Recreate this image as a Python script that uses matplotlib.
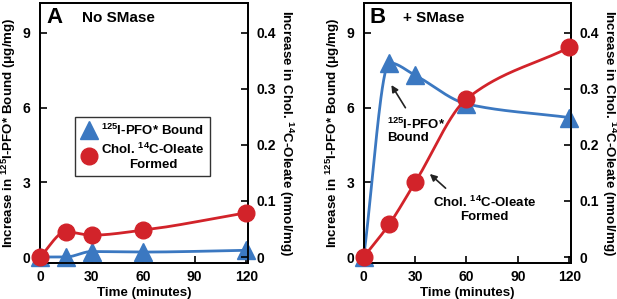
import numpy as np
import matplotlib
matplotlib.use("Agg")
import matplotlib.pyplot as plt
from matplotlib.lines import Line2D

plt.rcParams['font.family'] = ['Liberation Sans', 'DejaVu Sans']
plt.rcParams['font.weight'] = 'bold'
plt.rcParams['mathtext.fontset'] = 'custom'
plt.rcParams['mathtext.rm'] = 'Liberation Sans:bold'
plt.rcParams['mathtext.bf'] = 'Liberation Sans:bold'
plt.rcParams['mathtext.it'] = 'Liberation Sans:bold'
plt.rcParams['mathtext.default'] = 'bf'

# ---- data ----
time = [0, 15, 30, 60, 120]
pfo_no_smase = [0.0, 0.0, 0.22, 0.2, 0.27]          # ug/mg (left axis)
oleate_no_smase = [0.0, 0.045, 0.039, 0.048, 0.079]  # nmol/mg (right axis)
pfo_smase = [0.0, 7.8, 7.3, 6.15, 5.6]
oleate_smase = [0.0, 0.059, 0.133, 0.282, 0.374]

xticks = [0, 30, 60, 90, 120]
left_ticks = [0, 3, 6, 9]
right_ticks = [0, 0.1, 0.2, 0.3, 0.4]
right_ticklabels = ['0', '0.1', '0.2', '0.3', '0.4']

BLUE = '#3b78c1'
RED = '#d2232a'


def pchip(x, y, n=300):
    x = np.asarray(x, float); y = np.asarray(y, float)
    h = np.diff(x); d = np.diff(y) / h
    m = np.zeros_like(y)
    for k in range(1, len(x) - 1):
        if d[k - 1] * d[k] <= 0:
            m[k] = 0
        else:
            w1 = 2 * h[k] + h[k - 1]; w2 = h[k] + 2 * h[k - 1]
            m[k] = (w1 + w2) / (w1 / d[k - 1] + w2 / d[k])
    m[0] = d[0]; m[-1] = d[-1]
    xs = np.linspace(x[0], x[-1], n)
    idx = np.clip(np.searchsorted(x, xs) - 1, 0, len(x) - 2)
    t = (xs - x[idx]) / h[idx]
    h00 = 2 * t**3 - 3 * t**2 + 1; h10 = t**3 - 2 * t**2 + t
    h01 = -2 * t**3 + 3 * t**2; h11 = t**3 - t**2
    ys = h00 * y[idx] + h10 * h[idx] * m[idx] + h01 * y[idx + 1] + h11 * h[idx] * m[idx + 1]
    return xs, ys


fig = plt.figure(figsize=(6.17, 2.99), dpi=100)
ymax_l = 10.2
ymin_l = -0.24
ratio = 22.5
fs_tick = 10
fs_lab = 9.6

positions = [(40, 248), (363.7, 571)]
panels = [(pfo_no_smase, oleate_no_smase, 'A', 'No SMase'),
          (pfo_smase, oleate_smase, 'B', '+ SMase')]
axes = []
for (l, r), (pfo, ole, letter, title) in zip(positions, panels):
    ax = fig.add_axes([l / 617, 1 - 263 / 299, (r - l) / 617, 260 / 299])
    ax2 = ax.twinx()
    ax.set_xlim(0, 121)
    ax.set_ylim(ymin_l, ymax_l)
    ax2.set_ylim(ymin_l / ratio, ymax_l / ratio)
    xs, ys = pchip(time, pfo)
    ax.plot(xs, ys, color=BLUE, lw=2, zorder=2)
    ax.plot(time, pfo, ls='none', marker='^', ms=13, color=BLUE, mec=BLUE, clip_on=False, zorder=3)
    xs, ys = pchip(time, ole)
    ax2.plot(xs, ys, color=RED, lw=2, zorder=2)
    ax2.plot(time, ole, ls='none', marker='o', ms=12, color=RED, mec=RED, clip_on=False, zorder=3)

    ax.set_xticks(xticks)
    ax.set_yticks(left_ticks)
    ax2.set_yticks(right_ticks)
    ax2.set_yticklabels(right_ticklabels)
    ax.tick_params(axis='both', direction='in', length=5, width=1.2, labelsize=fs_tick, pad=5)
    ax.tick_params(axis='y', pad=7)
    ax2.tick_params(axis='y', direction='in', length=5, width=1.2, labelsize=fs_tick, pad=6)
    for a in (ax, ax2):
        for s in a.spines.values():
            s.set_linewidth(1.3)
    ax.set_xlabel('Time (minutes)', fontsize=fs_lab, fontweight='bold', labelpad=2)
    ax.set_ylabel(r'Increase in $^{125}$I-PFO* Bound ($\mathregular{\mu}$g/mg)',
                  fontsize=fs_lab, fontweight='bold', labelpad=3)
    ax2.set_ylabel(r'Increase in Chol. $^{14}$C-Oleate (nmol/mg)', fontsize=fs_lab,
                   fontweight='bold', rotation=270, labelpad=14)
    ax.text(0.03, 0.985, letter, transform=ax.transAxes, fontsize=16, fontweight='bold',
            va='top', ha='left')
    ax.text(0.2 if letter == 'A' else 0.19, 0.97, title, transform=ax.transAxes, fontsize=11,
            fontweight='bold', va='top', ha='left')
    axes.append((ax, ax2))

# legend in panel A
axA = axes[0][0]
handles = [Line2D([], [], ls='none', marker='^', ms=13, color=BLUE),
           Line2D([], [], ls='none', marker='o', ms=12, color=RED)]
leg = axA.legend(handles, [r'$^{125}$I-PFO* Bound', 'Chol. $^{14}$C-Oleate\nFormed'],
                 loc='upper left', bbox_to_anchor=(0.168, 0.56), frameon=True,
                 fancybox=False, edgecolor='black', fontsize=9.5, handletextpad=0.2,
                 borderpad=0.4, labelspacing=0.3, handlelength=1.4, borderaxespad=0)
leg.get_frame().set_linewidth(1.0)
for t in leg.get_texts():
    t.set_multialignment('center')
    t.set_fontweight('bold')

# annotations in panel B
axB = axes[1][0]
axB.annotate('', xy=(15.3, 7.0), xytext=(25.2, 5.9),
             arrowprops=dict(arrowstyle='-|>', color='#222222', lw=1.2, mutation_scale=10))
axB.text(13.5, 5.65, '$^{125}$I-PFO*\nBound', fontsize=9.5, fontweight='bold',
         ha='left', va='top', linespacing=1.1)
axB.annotate('', xy=(37.4, 3.41), xytext=(49, 2.69),
             arrowprops=dict(arrowstyle='-|>', color='#222222', lw=1.2, mutation_scale=10))
axB.text(70.5, 2.5, 'Chol. $^{14}$C-Oleate\nFormed', fontsize=9.5, fontweight='bold',
         ha='center', va='top', linespacing=1.1, multialignment='center')

fig.savefig('out.png', dpi=100)
